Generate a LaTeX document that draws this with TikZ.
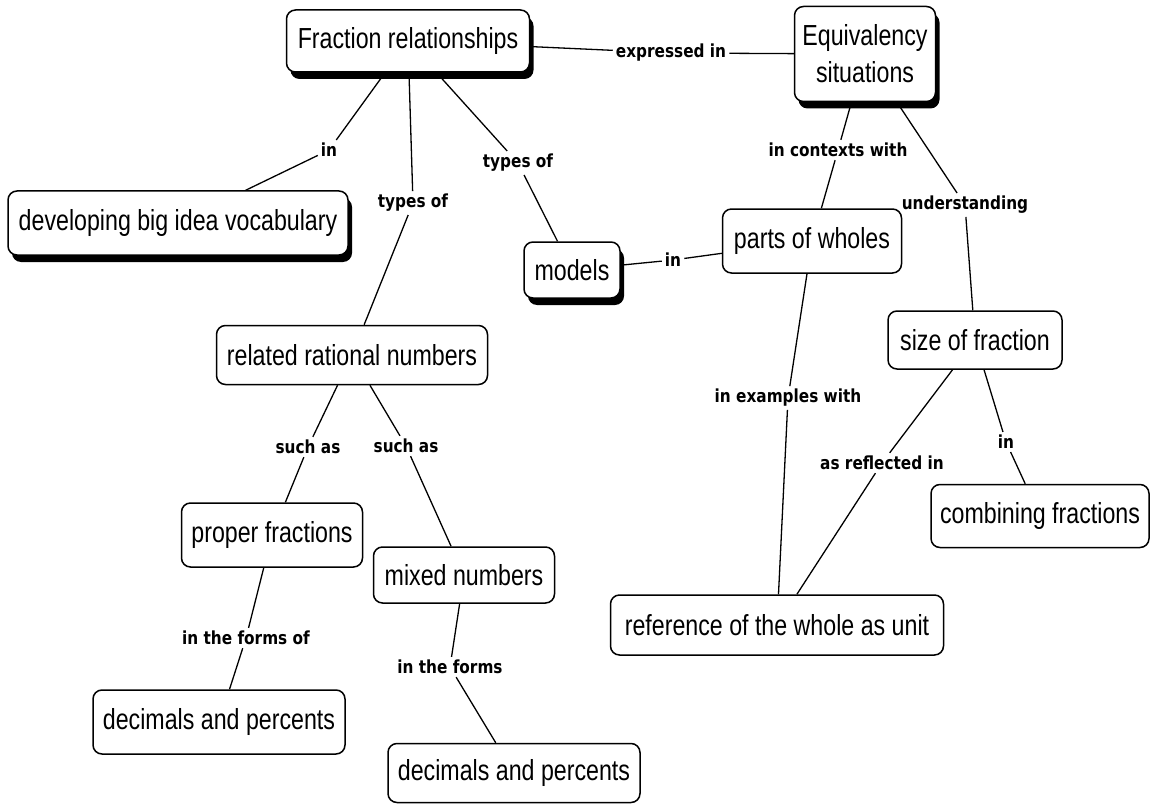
\documentclass[tikz,border=0pt]{standalone}
\usepackage{fontspec}
\usetikzlibrary{shadows}
\newfontfamily\nodefont{Liberation Sans}[FakeStretch=0.8]
\newfontfamily\linkfont{DejaVu Sans}[FakeStretch=0.85]
\begin{document}
\begin{tikzpicture}[x=1pt,y=-1pt,
  concept/.style={draw=black, rounded corners=9pt, line width=1.5pt, fill=white,
    font=\nodefont\fontsize{29}{37}\selectfont, align=center,
    inner xsep=6pt, inner ysep=2pt},
  shadowed/.style={concept, drop shadow={shadow xshift=4pt, shadow yshift=-7pt,
    fill=black, opacity=1}},
  linkword/.style={font=\linkfont\bfseries\fontsize{18}{20}\selectfont, inner sep=3pt},
  conn/.style={line width=1.3pt, black}]

\fill[white] (0,0) rectangle (1153,805);
\useasboundingbox (0,0) rectangle (1153,805);

% concepts
\node[shadowed, minimum width=243pt, minimum height=62pt] (fr) at (408,41) {Fraction relationships};
\node[shadowed, minimum width=141pt, minimum height=95pt] (es) at (865,54) {Equivalency\\situations};
\node[shadowed, minimum width=340pt, minimum height=64pt] (dv) at (178,223) {developing big idea vocabulary};
\node[shadowed, minimum width=96pt, minimum height=56pt] (mo) at (572,270) {models};
\node[concept, minimum width=179pt, minimum height=64pt] (pw) at (812,241) {parts of wholes};
\node[concept, minimum width=271pt, minimum height=59pt] (rr) at (352,355) {related rational numbers};
\node[concept, minimum width=174pt, minimum height=58pt] (sf) at (975,340) {size of fraction};
\node[concept, minimum width=181pt, minimum height=64pt] (pf) at (272,535) {proper fractions};
\node[concept, minimum width=181pt, minimum height=56pt] (mn) at (464,575) {mixed numbers};
\node[concept, minimum width=218pt, minimum height=63pt] (cf) at (1040,516) {combining fractions};
\node[concept, minimum width=333pt, minimum height=60pt] (rw) at (777,625) {reference of the whole as unit};
\node[concept, minimum width=252pt, minimum height=64pt] (dl) at (219,722) {decimals and percents};
\node[concept, minimum width=252pt, minimum height=59pt] (dr) at (514,773) {decimals and percents};

% linking phrases
\node[linkword] (l1) at (671,53) {expressed in};
\node[linkword] (l2) at (329,150) {in};
\node[linkword] (l3) at (413,203) {types of};
\node[linkword] (l4) at (518,163) {types of};
\node[linkword] (l5) at (838,150) {in contexts with};
\node[linkword] (l6) at (965,205) {understanding};
\node[linkword] (l7) at (673,260) {in};
\node[linkword] (l8) at (788,398) {in examples with};
\node[linkword] (l9) at (882,463) {as reflected in};
\node[linkword] (l10) at (1006,442) {in};
\node[linkword] (l11) at (308,447) {such as};
\node[linkword] (l12) at (406,446) {such as};
\node[linkword] (l13) at (246,638) {in the forms of};
\node[linkword] (l14) at (450,667) {in the forms};

% connectors
\draw[conn] (fr) -- (l1);  \draw[conn] (l1) -- (es);
\draw[conn] (fr) -- (l2);  \draw[conn] (l2) -- (dv);
\draw[conn] (fr) -- (l3);  \draw[conn] (l3) -- (rr);
\draw[conn] (fr) -- (l4);  \draw[conn] (l4) -- (mo);
\draw[conn] (es) -- (l5);  \draw[conn] (l5) -- (pw);
\draw[conn] (es) -- (l6);  \draw[conn] (l6) -- (sf);
\draw[conn] (mo) -- (l7);  \draw[conn] (l7) -- (pw);
\draw[conn] (pw) -- (l8);  \draw[conn] (l8) -- (rw);
\draw[conn] (sf) -- (l9);  \draw[conn] (l9) -- (rw);
\draw[conn] (sf) -- (l10); \draw[conn] (l10) -- (cf);
\draw[conn] (rr) -- (l11); \draw[conn] (l11) -- (pf);
\draw[conn] (rr) -- (l12); \draw[conn] (l12) -- (mn);
\draw[conn] (pf) -- (l13); \draw[conn] (l13) -- (dl);
\draw[conn] (mn) -- (l14); \draw[conn] (l14) -- (dr);
\end{tikzpicture}
\end{document}
